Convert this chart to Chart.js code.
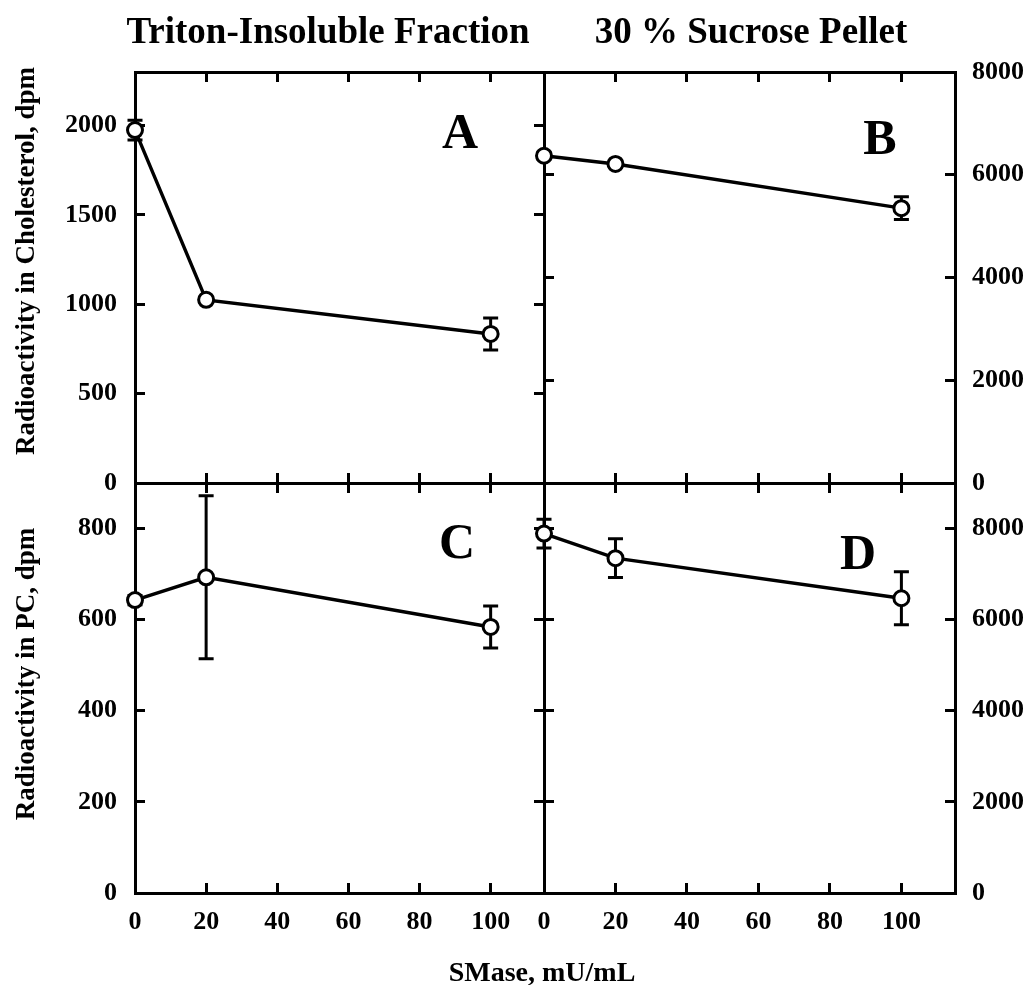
<!DOCTYPE html>
<html>
<head>
<meta charset="utf-8">
<script src="https://cdn.jsdelivr.net/npm/chart.js@4.4.1/dist/chart.umd.min.js"></script>
<style>
  html, body { margin: 0; padding: 0; background: #fff; }
  #page {
    position: relative;
    width: 1031px;
    height: 985px;
    font-family: "Liberation Serif", "Times New Roman", serif;
    font-weight: bold;
    color: #000;
  }
  #page canvas { position: absolute; left: 0; top: 0; }
  .txt {
    position: absolute;
    white-space: nowrap;
    line-height: 1;
    transform: translate(-50%, -50%);
  }
  .vert { transform: translate(-50%, -50%) rotate(-90deg); }
</style>
</head>
<body>
<div id="page">
  <canvas id="chartA" width="1031" height="985"></canvas>
  <canvas id="chartB" width="1031" height="985"></canvas>
  <canvas id="chartC" width="1031" height="985"></canvas>
  <canvas id="chartD" width="1031" height="985"></canvas>

  <div class="txt" style="left:328px; top:30px; font-size:37px;">Triton-Insoluble Fraction</div>
  <div class="txt" style="left:751px; top:30px; font-size:37px;">30 % Sucrose Pellet</div>
  <div class="txt vert" style="left:25px; top:261px; font-size:27px;">Radioactivity in Cholesterol, dpm</div>
  <div class="txt vert" style="left:25px; top:674px; font-size:27px;">Radioactivity in PC, dpm</div>
  <div class="txt" style="left:542px; top:972px; font-size:28px;">SMase, mU/mL</div>

  <div class="txt" style="left:460px; top:131px; font-size:50px;">A</div>
  <div class="txt" style="left:880px; top:137px; font-size:50px;">B</div>
  <div class="txt" style="left:457px; top:541px; font-size:50px;">C</div>
  <div class="txt" style="left:858px; top:552px; font-size:50px;">D</div>
</div>

<script>
// SMase dose, mU/mL
const doses = [0, 20, 100];

// cholesterol radioactivity, dpm
const cholTriton = [1975, 1025, 834];
const cholTritonErr = [55, 15, 90];
const cholSucrose = [6370, 6210, 5350];
const cholSucroseErr = [70, 60, 220];

// PC radioactivity, dpm
const pcTriton = [643, 693, 584];
const pcTritonErr = [10, 179, 46];
const pcSucrose = [7890, 7350, 6470];
const pcSucroseErr = [317, 426, 580];

// axis ranges and tick labels
const xRange = [0, 115];
const xTicks = [0, 20, 40, 60, 80, 100];
const cholTritonRange = [0, 2300];
const cholTritonTicks = [0, 500, 1000, 1500, 2000];
const cholSucroseRange = [0, 8000];
const cholSucroseTicks = [0, 2000, 4000, 6000, 8000];
const pcTritonRange = [0, 900];
const pcTritonTicks = [0, 200, 400, 600, 800];
const pcSucroseRange = [0, 9000];
const pcSucroseTicks = [0, 2000, 4000, 6000, 8000];

const FONT = "'Liberation Serif', 'Times New Roman', serif";

const errorBars = {
  id: "errorBars",
  beforeDatasetsDraw(chart) {
    const ctx = chart.ctx;
    chart.data.datasets.forEach((dataset, i) => {
      const meta = chart.getDatasetMeta(i);
      const xScale = chart.scales[meta.xAxisID];
      const yScale = chart.scales[meta.yAxisID];
      ctx.save();
      ctx.strokeStyle = "#000";
      ctx.lineWidth = 3;
      dataset.data.forEach((point, j) => {
        const err = dataset.errors[j];
        if (!err) return;
        const x = xScale.getPixelForValue(point.x);
        const top = yScale.getPixelForValue(point.y + err);
        const bottom = yScale.getPixelForValue(point.y - err);
        ctx.beginPath();
        ctx.moveTo(x, top);
        ctx.lineTo(x, bottom);
        ctx.moveTo(x - 7.5, top);
        ctx.lineTo(x + 7.5, top);
        ctx.moveTo(x - 7.5, bottom);
        ctx.lineTo(x + 7.5, bottom);
        ctx.stroke();
      });
      ctx.restore();
    });
  },
};

function makeAxis(position, range, tickValues, labels, size, padding) {
  const horizontal = position === "top" || position === "bottom";
  return {
    type: "linear",
    position: position,
    min: range[0],
    max: range[1],
    afterBuildTicks: (scale) => {
      scale.ticks = tickValues.map((v) => ({ value: v }));
    },
    afterFit: (scale) => {
      if (horizontal) scale.height = size;
      else scale.width = size;
    },
    border: { display: true, color: "#000", width: 3 },
    grid: {
      display: true,
      drawOnChartArea: false,
      drawTicks: true,
      tickLength: -10,
      tickColor: "#000",
      tickWidth: 3,
    },
    ticks: {
      display: labels,
      color: "#000",
      padding: padding,
      autoSkip: false,
      maxRotation: 0,
      font: { family: FONT, size: 26, weight: "bold" },
      callback: (value) => String(value),
    },
  };
}

function createPanel(canvasId, panel) {
  const canvas = document.getElementById(canvasId);
  const yOther = panel.ySide === "left" ? "right" : "left";
  return new Chart(canvas, {
    type: "line",
    data: {
      datasets: [{
        data: doses.map((d, i) => ({ x: d, y: panel.values[i] })),
        errors: panel.errors,
        borderColor: "#000",
        borderWidth: 3.4,
        pointRadius: 7.5,
        pointBorderWidth: 3,
        pointBackgroundColor: "#fff",
        pointBorderColor: "#000",
        tension: 0,
        clip: false,
      }],
    },
    options: {
      responsive: false,
      animation: false,
      events: [],
      layout: { padding: panel.padding },
      plugins: {
        legend: { display: false },
        tooltip: { enabled: false },
      },
      scales: {
        x: makeAxis("bottom", xRange, xTicks, panel.xLabels, panel.xLabels ? 92 : 0, 24),
        x2: makeAxis("top", xRange, xTicks, false, 0, 0),
        y: makeAxis(panel.ySide, panel.yRange, panel.yTicks, true, panel.ySide === "left" ? 135 : 76, panel.ySide === "left" ? 28 : 27),
        y2: makeAxis(yOther, panel.yRange, panel.yTicks, false, 0, 0),
      },
    },
    plugins: [errorBars],
  });
}

createPanel("chartA", {
  values: cholTriton, errors: cholTritonErr,
  yRange: cholTritonRange, yTicks: cholTritonTicks,
  ySide: "left", xLabels: false,
  padding: { left: 0, top: 72, right: 487, bottom: 502 },
});

createPanel("chartB", {
  values: cholSucrose, errors: cholSucroseErr,
  yRange: cholSucroseRange, yTicks: cholSucroseTicks,
  ySide: "right", xLabels: false,
  padding: { left: 544, top: 72, right: 0, bottom: 502 },
});

createPanel("chartC", {
  values: pcTriton, errors: pcTritonErr,
  yRange: pcTritonRange, yTicks: pcTritonTicks,
  ySide: "left", xLabels: true,
  padding: { left: 0, top: 483, right: 487, bottom: 0 },
});

createPanel("chartD", {
  values: pcSucrose, errors: pcSucroseErr,
  yRange: pcSucroseRange, yTicks: pcSucroseTicks,
  ySide: "right", xLabels: true,
  padding: { left: 544, top: 483, right: 0, bottom: 0 },
});
</script>
</body>
</html>
